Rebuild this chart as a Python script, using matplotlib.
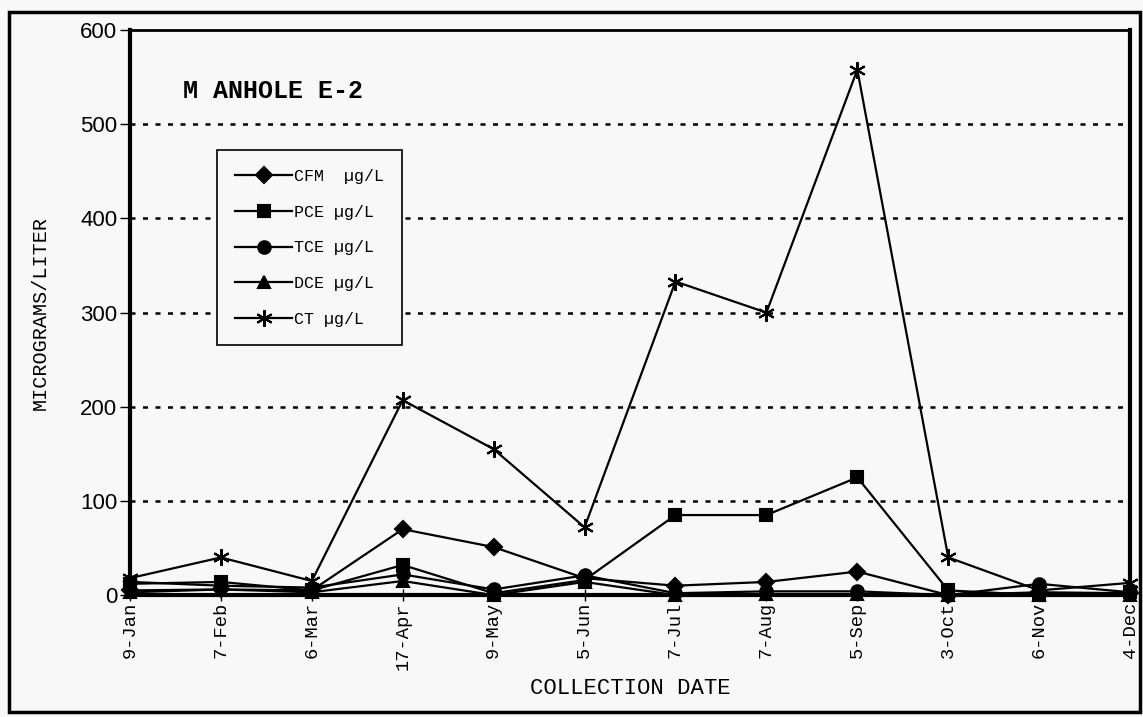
import matplotlib.pyplot as plt
from matplotlib.patches import Rectangle

dates = ["9-Jan", "7-Feb", "6-Mar", "17-Apr", "9-May", "5-Jun",
         "7-Jul", "7-Aug", "5-Sep", "3-Oct", "6-Nov", "4-Dec"]

cfm = [5, 6, 5, 70, 51, 18, 10, 14, 25, 0, 3, 2]
pce = [12, 14, 5, 32, 2, 16, 85, 85, 125, 5, 0, 3]
tce = [14, 10, 8, 22, 6, 21, 2, 4, 4, 0, 12, 3]
dce = [3, 6, 3, 15, 0, 14, 0, 1, 1, 0, 0, 0]
ct = [18, 40, 15, 207, 155, 72, 333, 300, 558, 40, 5, 13]

yticks = [0, 100, 200, 300, 400, 500, 600]

mono = "Liberation Mono"
bg = "#f8f8f8"

fig = plt.figure(figsize=(11.43, 7.17), dpi=100, facecolor=bg)
ax = fig.add_axes([0.1137, 0.170, 0.875, 0.788])
ax.set_facecolor(bg)

# outer frame round the whole chart
fig.patches.append(Rectangle((0.008, 0.007), 0.989, 0.976, transform=fig.transFigure,
                             fill=False, edgecolor="black", linewidth=2.5))

x = list(range(len(dates)))
series = [
    ("CFM  µg/L", cfm, "D", 8),
    ("PCE µg/L", pce, "s", 9),
    ("TCE µg/L", tce, "o", 9),
    ("DCE µg/L", dce, "^", 9),
    ("CT µg/L", ct, (6, 2, 0), 12),
]
for label, vals, mk, ms in series:
    ax.plot(x, vals, color="black", linewidth=1.6, marker=mk, markersize=ms,
            markeredgewidth=1.5, label=label, clip_on=False, zorder=3)

ax.set_xlim(0, 11)
ax.set_ylim(0, 600)
ax.set_yticks(yticks)
ax.set_yticklabels([str(v) for v in yticks], fontsize=16, family="Liberation Sans")
ax.set_xticks(x)
ax.set_xticklabels(dates, rotation=90, fontsize=13.5, family=mono)
ax.tick_params(axis="x", direction="inout", length=8, width=1, pad=1)
ax.tick_params(axis="y", direction="out", length=7, width=1, pad=2)

for v in yticks[1:-1]:
    ax.axhline(v, color="black", linestyle=(0, (2, 3)), linewidth=1.8, zorder=1)

for side in ["left", "bottom", "right"]:
    ax.spines[side].set_linewidth(3)
ax.spines["top"].set_linewidth(2)

ax.set_ylabel("MICROGRAMS/LITER", fontsize=14.5, family=mono, labelpad=22)
ax.set_xlabel("COLLECTION DATE", fontsize=16, family=mono, labelpad=6)

ax.text(0.053, 0.88, "M ANHOLE E-2", transform=ax.transAxes, fontsize=18,
        family=mono, fontweight="bold")

leg = ax.legend(loc="upper left", bbox_to_anchor=(0.087, 0.787), prop={"family": mono, "size": 12},
                numpoints=1, handlelength=3.4, handletextpad=0.1, labelspacing=1.25,
                borderpad=1.1, fancybox=False, framealpha=1, edgecolor="black",
                borderaxespad=0)
leg.get_frame().set_facecolor(bg)
leg.get_frame().set_linewidth(1.2)

fig.savefig("out.png", dpi=100, facecolor=bg)
